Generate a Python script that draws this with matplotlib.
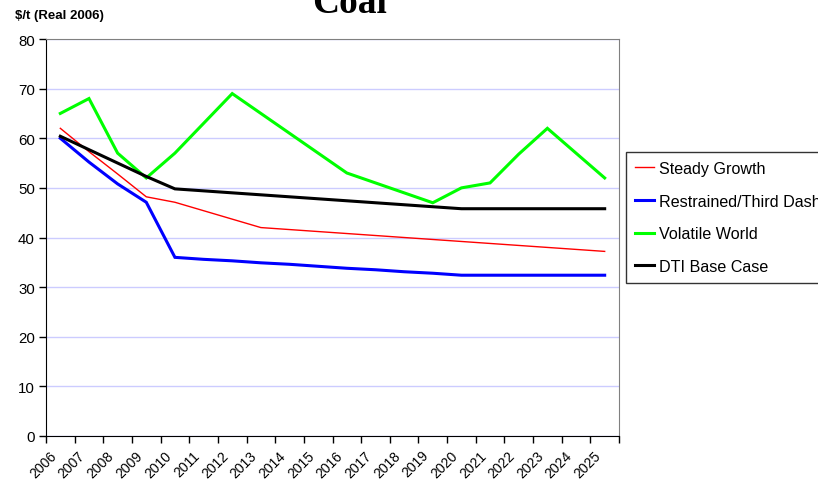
import numpy as np
import matplotlib
matplotlib.use("Agg")
import matplotlib.pyplot as plt
import matplotlib.transforms as mtransforms

years = [str(y) for y in range(2006, 2026)]

steady_growth = [62.0, 57.3, 52.8, 48.2, 47.1, 45.4, 43.7, 42.0, 41.6, 41.2,
                 40.8, 40.4, 40.0, 39.6, 39.2, 38.8, 38.4, 38.0, 37.6, 37.2]
restrained = [60.0, 55.2, 50.8, 47.1, 36.0, 35.6, 35.3, 34.9, 34.6, 34.2,
              33.8, 33.5, 33.1, 32.8, 32.4, 32.4, 32.4, 32.4, 32.4, 32.4]
volatile = [65.0, 68.0, 57.0, 52.0, 57.0, 63.0, 69.0, 65.0, 61.0, 57.0,
            53.0, 51.0, 49.0, 47.0, 50.0, 51.0, 56.8, 62.0, 57.0, 52.0]
dti_base = [60.4, 57.7, 55.0, 52.3, 49.8, 49.4, 49.0, 48.6, 48.2, 47.8,
            47.4, 47.0, 46.6, 46.2, 45.8, 45.8, 45.8, 45.8, 45.8, 45.8]

series = [
    ("Steady Growth", steady_growth, "#ff0000", 1.0),
    ("Restrained/Third Dash", restrained, "#0000ff", 2.2),
    ("Volatile World", volatile, "#00ff00", 2.2),
    ("DTI Base Case", dti_base, "#000000", 2.2),
]

plt.rcParams['font.family'] = ['Liberation Sans', 'DejaVu Sans']

fig = plt.figure(figsize=(8.18, 4.81), dpi=100)
ax = fig.add_axes([46 / 818, 1 - 437 / 481, 573 / 818, 397 / 481])

x = np.arange(len(years))
for name, vals, col, lw in series:
    ax.plot(x, vals, color=col, lw=lw, label=name, solid_joinstyle='miter')

ax.set_xlim(-0.5, len(years) - 0.5)
ax.set_ylim(0, 80)
ax.set_yticks(range(0, 81, 10))
ax.tick_params(axis='y', labelsize=10.8, length=5, width=1, direction='out', pad=3)
ax.grid(axis='y', color='#ccccff', lw=1)
ax.set_axisbelow(True)

# category boundaries as ticks, labels centred on categories
ax.set_xticks(np.arange(-0.5, len(years), 1.0))
ax.set_xticklabels([])
ax.tick_params(axis='x', which='major', length=5, width=1, direction='out')
ax.set_xticks(x, minor=True)
ax.set_xticklabels(years, minor=True, rotation=45, ha='right',
                   rotation_mode='anchor', fontsize=10)
ax.tick_params(axis='x', which='minor', length=0, pad=8.5)
shift = mtransforms.ScaledTranslation(-11 / 100, 0, fig.dpi_scale_trans)
for lab in ax.get_xticklabels(minor=True):
    lab.set_transform(lab.get_transform() + shift)

for s in ['top', 'right']:
    ax.spines[s].set_color('#808080')
for s in ['left', 'bottom']:
    ax.spines[s].set_color('black')

fig.text(15 / 818, 1 - 16 / 481, "$/t (Real 2006)", fontsize=9.5,
         fontweight='bold', ha='left', va='center')
fig.text(350 / 818, 1 - 13 / 481, "Coal", fontsize=27, fontweight='bold',
         family=['Liberation Serif', 'DejaVu Serif'], ha='center', va='baseline')

leg = fig.legend(loc='upper left', bbox_to_anchor=(626 / 818, 1 - 153 / 481),
                 frameon=True, fancybox=False, edgecolor='black',
                 fontsize=11.6, handlelength=1.2, handletextpad=0.3,
                 labelspacing=1.1, borderpad=0.55, borderaxespad=0)
leg.get_frame().set_linewidth(1)

fig.savefig("out.png", dpi=100)
